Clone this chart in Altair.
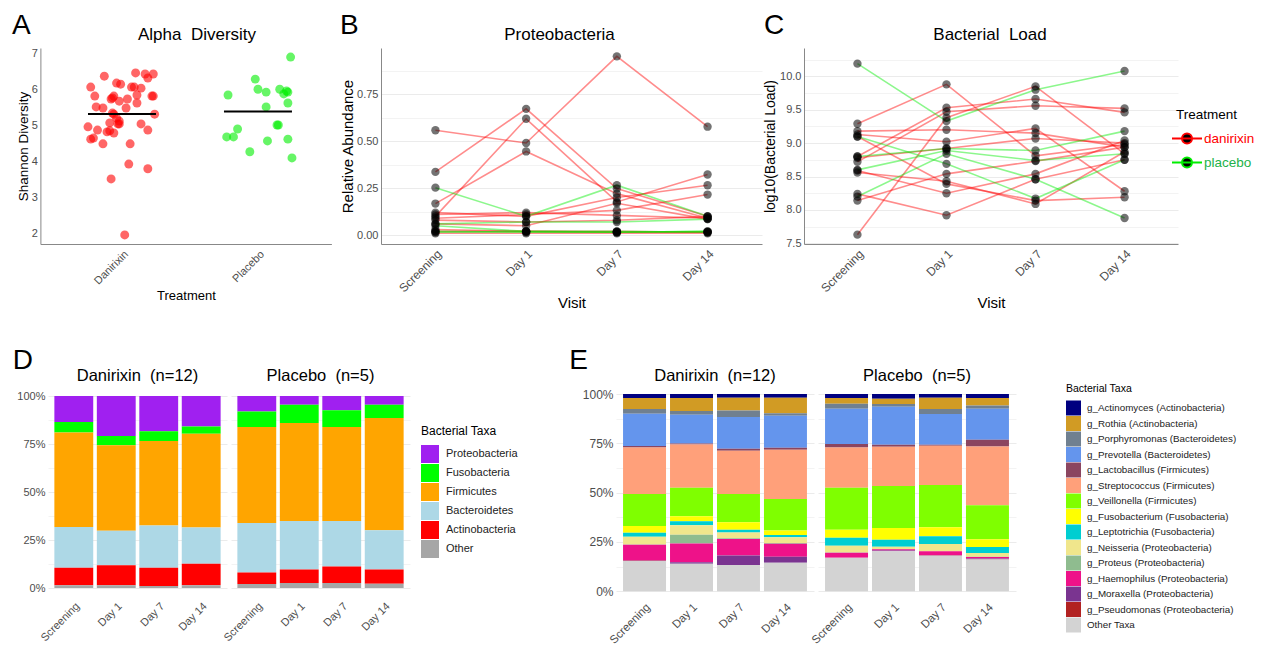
import altair as alt
import pandas as pd

FONT = "Liberation Sans"
RED = "#FF0000"
GREEN = "#00EE00"
GRID_MAJOR = "#EBEBEB"
GRID_MINOR = "#F3F3F3"
LABEL_GREY = "#4D4D4D"

visits = ["Screening", "Day 1", "Day 7", "Day 14"]

# ---------------- Panel A : Alpha diversity ----------------
alpha_groups = ["Danirixin", "Placebo"]
alpha_danirixin = [6.36, 6.06, 6.45, 6.42, 6.42, 6.31, 6.17, 6.14, 6.06, 6.06, 6.03,
                   5.81, 5.76, 5.81, 5.73, 5.73, 5.84, 5.81, 5.81,
                   5.62, 5.67, 5.51, 5.48, 5.48,
                   5.34, 5.31, 5.31,
                   5.20, 5.12, 5.04, 5.07,
                   4.85, 4.96, 4.87, 4.82, 4.79, 5.04, 4.87, 5.04,
                   4.62, 4.65, 4.49, 4.49,
                   3.93, 3.80, 3.52, 1.97]
alpha_danirixin_jitter = [-0.13, -0.23, 0.10, 0.17, 0.23, 0.19, -0.04, -0.01, 0.07, 0.09, 0.14,
                          -0.20, -0.07, -0.06, -0.08, 0.04, 0.11, 0.22, 0.23,
                          0.11, -0.02, -0.19, -0.14, 0.03,
                          -0.07, -0.06, 0.24,
                          -0.04, -0.02, -0.03, -0.09,
                          -0.09, -0.25, -0.18, -0.11, -0.06, 0.14, 0.19, -0.02,
                          -0.23, -0.21, -0.14, 0.06,
                          0.05, 0.19, -0.08, 0.02]
alpha_placebo = [6.89, 6.28, 5.84, 6.00, 5.92, 6.00, 5.87, 5.92, 5.95, 5.62,
                 5.51, 5.01, 5.01, 4.90, 4.68, 4.68, 4.57, 4.62, 4.27, 4.10]
alpha_placebo_jitter = [0.24, -0.02, -0.22, 0.00, 0.06, 0.16, 0.19, 0.22, 0.21, 0.22,
                        0.06, 0.14, 0.15, -0.15, -0.23, -0.18, 0.07, 0.22, -0.06, 0.25]

# ---------------- Panel B : Proteobacteria (one list per subject, 4 visits) ----------------
prot_danirixin = [
    [0.559, 0.491, 0.953, 0.578],
    [0.337, 0.673, 0.248, 0.100],
    [0.168, 0.446, 0.221, 0.090],
    [0.100, 0.620, 0.177, 0.323],
    [0.120, 0.100, 0.200, 0.266],
    [0.090, 0.110, 0.132, 0.216],
    [0.110, 0.120, 0.105, 0.090],
    [0.080, 0.070, 0.079, 0.100],
    [0.060, 0.050, 0.170, 0.085],
    [0.020, 0.020, 0.016, 0.016],
    [0.010, 0.010, 0.010, 0.010],
    [0.030, 0.020, 0.020, 0.015],
]
prot_placebo = [
    [0.253, 0.100, 0.266, 0.100],
    [0.060, 0.070, 0.070, 0.085],
    [0.020, 0.015, 0.015, 0.020],
    [0.015, 0.020, 0.020, 0.015],
    [0.050, 0.020, 0.015, 0.020],
]

# ---------------- Panel C : Bacterial load ----------------
load_danirixin = [
    [9.29, 9.88, 8.81, 8.98],
    [9.18, 9.20, 9.15, 8.94],
    [9.13, 9.02, 9.22, 8.28],
    [9.10, 8.39, 8.14, 8.19],
    [8.80, 9.53, 9.66, 9.46],
    [8.72, 9.47, 9.56, 9.52],
    [8.56, 8.43, 8.09, 8.87],
    [8.59, 8.25, 8.54, 9.04],
    [8.14, 8.54, 8.73, 8.94],
    [7.63, 9.38, 9.85, 8.84],
    [8.24, 7.92, 8.46, 8.75],
    [8.78, 8.92, 9.07, 9.00],
]
load_placebo = [
    [10.19, 9.33, 9.80, 10.08],
    [9.10, 8.69, 8.17, 8.75],
    [8.20, 8.84, 8.46, 7.88],
    [8.80, 8.92, 8.89, 9.18],
    [8.60, 8.89, 8.74, 8.84],
]

# ---------------- Panel D : phyla (8 values: Danirixin x4 visits, Placebo x4 visits) ----------------
facet_groups = ["Danirixin\u00a0 (n=12)", "Placebo\u00a0 (n=5)"]
phyla = ["Proteobacteria", "Fusobacteria", "Firmicutes", "Bacteroidetes", "Actinobacteria", "Other"]
phyla_colors = ["#A020F0", "#00FF00", "#FFA500", "#ADD8E6", "#FF0000", "#A6A6A6"]
d_proteobacteria = [13.5, 20.8, 18.3, 15.9, 8.1, 4.5, 7.4, 4.5]
d_fusobacteria = [5.5, 4.8, 5.2, 3.7, 8.0, 9.5, 8.7, 6.9]
d_firmicutes = [49.2, 44.6, 44.0, 48.9, 50.0, 51.1, 49.0, 58.5]
d_bacteroidetes = [21.2, 18.0, 21.9, 18.9, 25.8, 25.2, 23.7, 20.4]
d_actinobacteria = [9.2, 10.4, 9.6, 11.2, 6.0, 7.1, 8.6, 7.5]
d_other = [1.4, 1.4, 1.0, 1.4, 2.1, 2.6, 2.6, 2.2]
phyla_values = [d_proteobacteria, d_fusobacteria, d_firmicutes, d_bacteroidetes, d_actinobacteria, d_other]

# ---------------- Panel E : genera ----------------
genera = ["g_Actinomyces (Actinobacteria)", "g_Rothia (Actinobacteria)", "g_Porphyromonas (Bacteroidetes)",
          "g_Prevotella (Bacteroidetes)", "g_Lactobacillus (Firmicutes)", "g_Streptococcus (Firmicutes)",
          "g_Veillonella (Firmicutes)", "g_Fusobacterium (Fusobacteria)", "g_Leptotrichia (Fusobacteria)",
          "g_Neisseria (Proteobacteria)", "g_Proteus (Proteobacteria)", "g_Haemophilus (Proteobacteria)",
          "g_Moraxella (Proteobacteria)", "g_Pseudomonas (Proteobacteria)", "Other Taxa"]
genera_colors = ["#000080", "#D19B24", "#708090", "#6495ED", "#8B4560", "#FFA07A", "#7FFF00", "#FFFF00",
                 "#00CED1", "#F0E68C", "#8FBC8F", "#EE1289", "#7A3490", "#B22222", "#D3D3D3"]
e_actinomyces = [2.0, 2.0, 1.9, 1.9, 2.0, 2.4, 1.9, 2.0]
e_rothia = [5.6, 6.6, 6.4, 7.9, 2.9, 2.7, 5.7, 3.8]
e_porphyromonas = [2.4, 1.9, 3.4, 1.2, 2.6, 1.3, 2.6, 1.7]
e_prevotella = [16.4, 14.6, 16.1, 16.3, 17.9, 19.4, 15.6, 15.7]
e_lactobacillus = [0.7, 0.5, 1.0, 1.0, 1.7, 1.0, 0.5, 3.4]
e_streptococcus = [23.7, 22.0, 21.9, 24.9, 20.5, 19.8, 19.8, 29.8]
e_veillonella = [16.2, 14.4, 14.4, 16.0, 21.2, 21.4, 21.5, 17.3]
e_fusobacterium = [3.5, 2.6, 3.7, 2.3, 4.1, 5.9, 4.6, 3.9]
e_leptotrichia = [2.0, 2.0, 1.4, 1.2, 4.1, 3.6, 3.9, 3.1]
e_neisseria = [3.9, 4.8, 3.0, 2.9, 3.4, 1.1, 3.6, 1.9]
e_proteus = [0.2, 4.4, 0.4, 0.3, 0.1, 0.2, 0.1, 0.1]
e_haemophilus = [8.0, 9.5, 8.3, 6.6, 2.6, 0.6, 2.0, 0.8]
e_moraxella = [0.1, 0.8, 4.9, 3.1, 0.0, 0.3, 0.1, 0.3]
e_pseudomonas = [0.1, 0.0, 0.0, 0.0, 0.0, 0.0, 0.1, 0.1]
e_other = [15.3, 13.9, 13.2, 14.4, 16.9, 20.3, 18.0, 16.1]
genera_values = [e_actinomyces, e_rothia, e_porphyromonas, e_prevotella, e_lactobacillus, e_streptococcus,
                 e_veillonella, e_fusobacterium, e_leptotrichia, e_neisseria, e_proteus, e_haemophilus,
                 e_moraxella, e_pseudomonas, e_other]


def text_layer(text, x, y, size, align="left", baseline="alphabetic", color="black"):
    return alt.Chart(pd.DataFrame({"t": [text]})).mark_text(
        fontSize=size, align=align, baseline=baseline, font=FONT, color=color
    ).encode(text="t:N", x=alt.value(x), y=alt.value(y))


minor_grid_color = {"condition": {"test": "datum.value * 8 % 2 != 0", "value": GRID_MINOR}, "value": GRID_MAJOR}

# ---------------- Build A ----------------
# the plot origin is shared with panel D below, so the A axes start AX_SHIFT px further left
A_W, A_H, AX_SHIFT = 291, 196, 7.6
dfA = pd.DataFrame({
    "group": [alpha_groups[0]] * len(alpha_danirixin) + [alpha_groups[1]] * len(alpha_placebo),
    "idx": [1] * len(alpha_danirixin) + [2] * len(alpha_placebo),
    "jit": alpha_danirixin_jitter + alpha_placebo_jitter,
    "shannon": alpha_danirixin + alpha_placebo,
})
labA = "['', '" + "', '".join(alpha_groups) + "'][datum.value]"
axisAx = alt.Axis(values=[1, 2], labelExpr=labA, labelAngle=-45, title="Treatment",
                  grid=False, ticks=False, domainColor="#888888", labelColor=LABEL_GREY,
                  labelFontSize=11, labelPadding=4, titleFontSize=13, titleFontWeight="normal",
                  titlePadding=3)
scaleAx = alt.Scale(domain=[0.4, 2.54], nice=False, zero=False, range=[-AX_SHIFT, A_W - AX_SHIFT])
yA = alt.Y("shannon:Q", scale=alt.Scale(domain=[1.72, 7.14], nice=False, zero=False),
           axis=alt.Axis(values=[2, 3, 4, 5, 6, 7], format="d", title="Shannon Diversity", grid=False,
                         ticks=False, domainColor="#888888", labelColor=LABEL_GREY, labelFontSize=11,
                         labelPadding=3, labelOverlap=False, titleFontSize=13.5, titleFontWeight="normal",
                         titlePadding=1, offset=AX_SHIFT))
ptsA = alt.Chart(dfA).transform_calculate(pos="datum.idx + datum.jit").mark_circle(size=80, opacity=0.6).encode(
    x=alt.X("pos:Q", scale=scaleAx, axis=axisAx), y=yA,
    color=alt.Color("group:N", scale=alt.Scale(domain=alpha_groups, range=[RED, GREEN]), legend=None))
meanA = alt.Chart(dfA).transform_aggregate(shannon="mean(shannon)", groupby=["group", "idx"]).transform_calculate(
    pos="datum.idx - 0.25", hi="datum.idx + 0.25").mark_rule(color="black", strokeWidth=2).encode(
    x=alt.X("pos:Q", scale=scaleAx, axis=axisAx), x2="hi:Q", y=yA)
chartA = alt.layer(
    ptsA, meanA,
    text_layer("A", -36, -14, 28),
    text_layer("Alpha\u00a0 Diversity", 149, -13, 17, align="center", baseline="middle"),
).properties(width=A_W, height=A_H)


# ---------------- B & C helpers ----------------
def long_table(dan, pla, name):
    rows = []
    for i, vals in enumerate(dan):
        for v, val in zip(visits, vals):
            rows.append({"subject": f"d{i}", "treatment": "danirixin", "visit": v, name: val})
    for i, vals in enumerate(pla):
        for v, val in zip(visits, vals):
            rows.append({"subject": f"p{i}", "treatment": "placebo", "visit": v, name: val})
    return pd.DataFrame(rows)


def visit_x():
    return alt.X("visit:N", sort=visits, scale=alt.Scale(type="point", padding=0.6),
                 axis=alt.Axis(labelAngle=-45, title="Visit", grid=False, ticks=False, domainColor="#888888",
                               labelColor=LABEL_GREY, labelFontSize=12, labelPadding=4, titleFontSize=15,
                               titleFontWeight="normal", titlePadding=2))


# ---------------- Build B ----------------
B_W, B_H = 381, 196
dfB = long_table(prot_danirixin, prot_placebo, "abund")
yB = alt.Y("abund:Q", scale=alt.Scale(domain=[-0.0475, 0.9975], nice=False, zero=False),
           axis=alt.Axis(values=[i / 8 for i in range(8)],
                         labelExpr="datum.value * 8 % 2 == 0 ? format(datum.value, '.2f') : ''",
                         title="Relative Abundance", gridColor=minor_grid_color, ticks=False,
                         domainColor="#888888", labelColor=LABEL_GREY, labelFontSize=11, labelPadding=3,
                         titleFontSize=15, titleFontWeight="normal", titlePadding=1))
linesB = alt.Chart(dfB).mark_line(opacity=0.45, strokeWidth=1.6).encode(
    x=visit_x(), y=yB, detail="subject:N",
    color=alt.Color("treatment:N", scale=alt.Scale(domain=["danirixin", "placebo"], range=[RED, GREEN]),
                    legend=None))
ptsB = alt.Chart(dfB).mark_circle(size=70, opacity=0.55, color="black").encode(x=visit_x(), y=yB)
chartB = alt.layer(
    linesB, ptsB,
    text_layer("B", -41, -14, 28),
    text_layer("Proteobacteria", B_W / 2 - 12, -13, 17, align="center", baseline="middle"),
).properties(width=B_W, height=B_H)

# ---------------- Build C ----------------
C_W, C_H = 374, 196
dfC = long_table(load_danirixin, load_placebo, "load")
yC = alt.Y("load:Q", scale=alt.Scale(domain=[7.49, 10.424], nice=False, zero=False),
           axis=alt.Axis(values=[7.5 + i * 0.25 for i in range(12)],
                         labelExpr="(datum.value * 4) % 2 == 0 ? format(datum.value, '.1f') : ''",
                         title="log10(Bacterial Load)",
                         gridColor={"condition": {"test": "(datum.value * 4) % 2 != 0", "value": GRID_MINOR},
                                    "value": GRID_MAJOR},
                         ticks=False, domainColor="#888888", labelColor=LABEL_GREY, labelFontSize=11,
                         labelPadding=3, titleFontSize=14, titleFontWeight="normal", titlePadding=2))
legend_symbol = "M-1.5,0L1.5,0M0.5,0A0.5,0.5,0,1,1,-0.5,0A0.5,0.5,0,1,1,0.5,0Z"
linesC = alt.Chart(dfC).mark_line(opacity=0.45, strokeWidth=1.6).encode(
    x=visit_x(), y=yC, detail="subject:N",
    color=alt.Color("treatment:N", scale=alt.Scale(domain=["danirixin", "placebo"], range=[RED, GREEN]),
                    legend=alt.Legend(title="Treatment", orient="none", legendX=372, legendY=60,
                                      symbolType=legend_symbol, symbolSize=400, symbolStrokeWidth=2,
                                      symbolFillColor="black", symbolOpacity=1,
                                      titleFontSize=13.5, titleFontWeight="normal", titleColor="black",
                                      titlePadding=6, labelFontSize=13.5, rowPadding=4, labelOffset=6,
                                      labelColor=alt.ExprRef("datum.value == 'danirixin' ? '#FF0000' : '#22B24A'"))))
ptsC = alt.Chart(dfC).mark_circle(size=70, opacity=0.55, color="black").encode(x=visit_x(), y=yC)
chartC = alt.layer(
    linesC, ptsC,
    text_layer("C", -40, -14, 28),
    text_layer("Bacterial\u00a0 Load", C_W / 2 - 1, -13, 17, align="center", baseline="middle"),
).properties(width=C_W, height=C_H)


# ---------------- Build D & E ----------------
def stacked_table(names, values):
    rows = []
    for ni, (name, vals) in enumerate(zip(names, values)):
        for gi, g in enumerate(facet_groups):
            for vi, v in enumerate(visits):
                rows.append({"group": g, "visit": v, "taxon": name, "order": len(names) - ni,
                             "pct": vals[gi * 4 + vi]})
    return pd.DataFrame(rows)


def pct_axis(size):
    return alt.Axis(values=[i / 8 for i in range(9)],
                    labelExpr="datum.value * 8 % 2 == 0 ? format(datum.value, '.0%') : ''",
                    title=None, gridColor=minor_grid_color, ticks=False, domain=False,
                    labelColor=LABEL_GREY, labelFontSize=size, labelPadding=3)


def bar_x(size, pad):
    return alt.X("visit:N", sort=visits, scale=alt.Scale(paddingInner=0.085, paddingOuter=0.15),
                 axis=alt.Axis(labelAngle=-45, title=None, grid=False, ticks=False, domain=False,
                               labelColor=LABEL_GREY, labelFontSize=size, labelPadding=pad))


def facet_header():
    return alt.Header(title=None, labelFontSize=16.5, labelFont=FONT, labelColor="black", labelPadding=0)


dfD = stacked_table(phyla, phyla_values)
chartD = alt.Chart(dfD).mark_bar().encode(
    x=bar_x(11, 2),
    y=alt.Y("pct:Q", stack="normalize", scale=alt.Scale(domain=[-0.052, 1.0625], nice=False, zero=False),
            axis=pct_axis(11)),
    color=alt.Color("taxon:N", scale=alt.Scale(domain=phyla, range=phyla_colors),
                    legend=alt.Legend(title="Bacterial Taxa", orient="none", legendX=373, legendY=42,
                                      symbolType="square", symbolSize=324, symbolStrokeWidth=0,
                                      titleFontSize=12, titleFontWeight="normal", titleColor="black",
                                      titlePadding=7, labelFontSize=11, labelColor="#222222",
                                      rowPadding=1, labelOffset=7)),
    order=alt.Order("order:Q"),
).properties(width=179, height=214).facet(
    column=alt.Column("group:N", sort=facet_groups, header=facet_header()),
    spacing=4,
    title=alt.TitleParams("D", anchor="start", fontSize=28, fontWeight="normal", font=FONT, offset=-7, dx=-4),
)

dfE = stacked_table(genera, genera_values)
chartE = alt.Chart(dfE).mark_bar().encode(
    x=bar_x(11.5, 0),
    y=alt.Y("pct:Q", stack="normalize", scale=alt.Scale(domain=[-0.05, 1.0508], nice=False, zero=False),
            axis=pct_axis(12)),
    color=alt.Color("taxon:N", scale=alt.Scale(domain=genera, range=genera_colors),
                    legend=alt.Legend(title="Bacterial Taxa", orient="right", offset=50,
                                      symbolType="square", symbolSize=225, symbolStrokeWidth=0,
                                      titleFontSize=10.5, titleFontWeight="normal", titleColor="black",
                                      titlePadding=6, labelFontSize=9.8, labelColor="#222222",
                                      rowPadding=0.5, labelOffset=6, labelLimit=300)),
    order=alt.Order("order:Q"),
).properties(width=198, height=217).facet(
    column=alt.Column("group:N", sort=facet_groups, header=facet_header()),
    spacing=4,
    title=alt.TitleParams("E", anchor="start", fontSize=28, fontWeight="normal", font=FONT, offset=-7, dx=-13),
)

top = alt.hconcat(chartA, chartB, chartC, spacing=1).resolve_scale(color="independent")
bottom = alt.hconcat(chartD, chartE, spacing=51).resolve_scale(color="independent")

chart = alt.concat(top, bottom, columns=1, spacing=35, align="none").resolve_scale(
    color="independent").properties(
    padding={"left": 4, "top": 4, "right": 0, "bottom": 0}
).configure(font=FONT).configure_view(stroke=None).configure_axis(
    labelFont=FONT, titleFont=FONT, titleColor="black"
).configure_legend(labelFont=FONT, titleFont=FONT, padding=0)

chart.save("out.html", embed_options={"renderer": "svg", "actions": False})
